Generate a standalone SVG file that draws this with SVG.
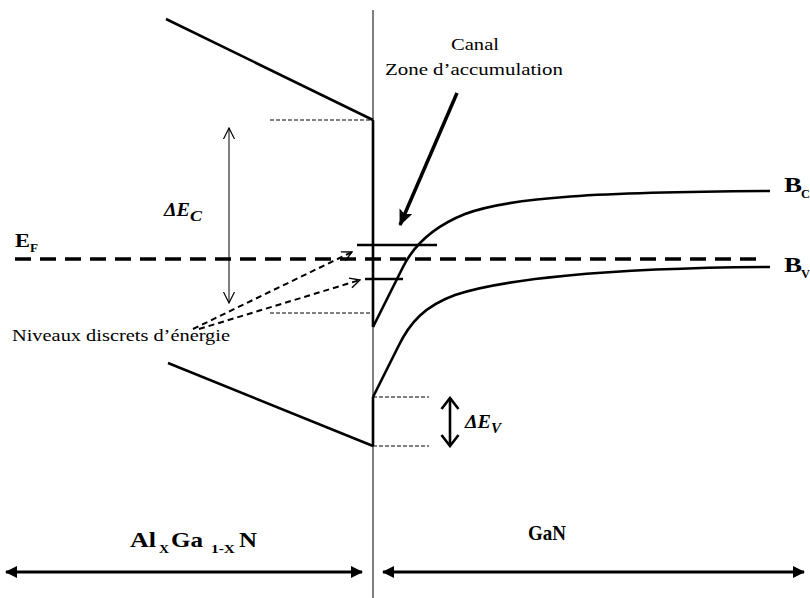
<svg xmlns="http://www.w3.org/2000/svg" width="810" height="598" viewBox="0 0 810 598">
<style>
  text { font-family: "Liberation Serif", "Times New Roman", serif; fill: #000; }
  .b { font-weight: bold; }
  .bi { font-weight: bold; font-style: italic; }
  .band { fill: none; stroke: #000; stroke-width: 2.6; stroke-linejoin: round; }
  .thin { fill: none; stroke: #000; stroke-width: 1; }
  .dshort { fill: none; stroke: #000; stroke-width: 1; stroke-dasharray: 4 2; }
  .ef { fill: none; stroke: #000; stroke-width: 3.5; stroke-dasharray: 16 9; }
  .dar { fill: none; stroke: #000; stroke-width: 2; stroke-dasharray: 6 4; }
</style>
<defs>
  <marker id="fill" viewBox="0 0 12 12" refX="11" refY="6" markerWidth="12" markerHeight="12" markerUnits="userSpaceOnUse" orient="auto-start-reverse">
    <path d="M0,0 L12,6 L0,12 Z" fill="#000"/>
  </marker>
  <marker id="canal" viewBox="0 0 16 14" refX="15" refY="7" markerWidth="16" markerHeight="14" markerUnits="userSpaceOnUse" orient="auto">
    <path d="M0,0 L16,7 L0,14 L3,7 Z" fill="#000"/>
  </marker>
  <marker id="open" viewBox="0 0 12 12" refX="11" refY="6" markerWidth="12" markerHeight="12" markerUnits="userSpaceOnUse" orient="auto-start-reverse">
    <path d="M0,0.5 L11,6 L0,11.5" fill="none" stroke="#000" stroke-width="1.2"/>
  </marker>
  <marker id="open2" viewBox="0 0 12 12" refX="11" refY="6" markerWidth="12" markerHeight="12" markerUnits="userSpaceOnUse" orient="auto">
    <path d="M1,1 L11,6 L1,11" fill="none" stroke="#000" stroke-width="1.4"/>
  </marker>
  <marker id="chev" viewBox="0 0 14 20" refX="12" refY="10" markerWidth="14" markerHeight="20" markerUnits="userSpaceOnUse" orient="auto-start-reverse">
    <path d="M1,1.5 L12,10 L1,18.5" fill="none" stroke="#000" stroke-width="2.6"/>
  </marker>
</defs>

<g id="interface">
  <line class="thin" x1="373" y1="10" x2="373" y2="598"/>
</g>

<g id="barrier-conduction">
  <line class="band" x1="166" y1="19" x2="373" y2="120"/>
  <line class="band" x1="373" y1="120" x2="373" y2="327"/>
</g>

<g id="barrier-valence">
  <line class="band" x1="168" y1="363" x2="373" y2="446"/>
  <line class="band" x1="373" y1="397" x2="373" y2="446"/>
</g>

<g id="gan-bc">
  <path class="band" d="M373,327 L403,267 C413,247 430,228 465,214 C510,197 600,192 770,191"/>
  <text class="b" x="784" y="192" font-size="21" textLength="18" lengthAdjust="spacingAndGlyphs">B</text>
  <text class="b" x="801" y="198" font-size="13" textLength="9" lengthAdjust="spacingAndGlyphs">C</text>
</g>

<g id="gan-bv">
  <path class="band" d="M373,397 L398,347 C410,322 425,306 455,295 C500,280 600,268 770,267"/>
  <text class="b" x="784" y="272" font-size="21" textLength="18" lengthAdjust="spacingAndGlyphs">B</text>
  <text class="b" x="801" y="278" font-size="13" textLength="9" lengthAdjust="spacingAndGlyphs">V</text>
</g>

<g id="fermi">
  <line class="ef" x1="15" y1="259" x2="756" y2="259"/>
  <text class="b" x="15" y="247" font-size="19" textLength="15" lengthAdjust="spacingAndGlyphs">E</text>
  <text class="b" x="30" y="252" font-size="12" textLength="8" lengthAdjust="spacingAndGlyphs">F</text>
</g>

<g id="levels">
  <line class="band" x1="357" y1="245" x2="437" y2="245"/>
  <line class="band" x1="365" y1="279" x2="403" y2="279"/>
</g>

<g id="delta-ec">
  <line class="dshort" x1="270" y1="120" x2="373" y2="120"/>
  <line class="dshort" x1="270" y1="313" x2="373" y2="313"/>
  <text class="bi" x="164" y="216" font-size="18" textLength="26" lengthAdjust="spacingAndGlyphs">ΔE</text>
  <text class="bi" x="190" y="221" font-size="14" textLength="12" lengthAdjust="spacingAndGlyphs">C</text>
</g>

<g id="delta-ev">
  <line class="dshort" x1="373" y1="397" x2="429" y2="397"/>
  <line class="dshort" x1="373" y1="446" x2="429" y2="446"/>
  <text class="bi" x="465" y="428" font-size="18" textLength="26" lengthAdjust="spacingAndGlyphs">ΔE</text>
  <text class="bi" x="491" y="433" font-size="14" textLength="10" lengthAdjust="spacingAndGlyphs">V</text>
</g>

<g id="canal-label">
  <text x="451" y="50" font-size="17" textLength="48" lengthAdjust="spacingAndGlyphs">Canal</text>
  <text x="385" y="75" font-size="17" textLength="178" lengthAdjust="spacingAndGlyphs">Zone d’accumulation</text>
</g>

<g id="niveaux-label">
  <text x="12" y="341" font-size="17" textLength="218" lengthAdjust="spacingAndGlyphs">Niveaux discrets d’énergie</text>
</g>

<g id="algan-label">
  <text class="b" x="130" y="547" font-size="21" textLength="26" lengthAdjust="spacingAndGlyphs">Al</text>
  <text class="b" x="159" y="553" font-size="13" textLength="10" lengthAdjust="spacingAndGlyphs">X</text>
  <text class="b" x="171" y="547" font-size="21" textLength="32" lengthAdjust="spacingAndGlyphs">Ga</text>
  <text class="b" x="211" y="553" font-size="13" textLength="24" lengthAdjust="spacingAndGlyphs">1-X</text>
  <text class="b" x="239" y="547" font-size="21" textLength="18" lengthAdjust="spacingAndGlyphs">N</text>
</g>

<g id="gan-label">
  <text class="b" x="528" y="540" font-size="21" textLength="38" lengthAdjust="spacingAndGlyphs">GaN</text>
</g>

<g id="connectors">
  <line x1="457" y1="93" x2="400" y2="225" stroke="#000" stroke-width="3.5" marker-end="url(#canal)"/>
  <line x1="229" y1="128" x2="229" y2="303" stroke="#000" stroke-width="1" marker-start="url(#open)" marker-end="url(#open)"/>
  <line x1="450" y1="398" x2="450" y2="446" stroke="#000" stroke-width="2.6" marker-start="url(#chev)" marker-end="url(#chev)"/>
  <line class="dar" x1="193" y1="329" x2="352" y2="252" marker-end="url(#open2)"/>
  <line class="dar" x1="199" y1="329" x2="360" y2="280" marker-end="url(#open2)"/>
  <line x1="6" y1="572" x2="362" y2="572" stroke="#000" stroke-width="3" marker-start="url(#fill)" marker-end="url(#fill)"/>
  <line x1="383" y1="572" x2="804" y2="572" stroke="#000" stroke-width="3" marker-start="url(#fill)" marker-end="url(#fill)"/>
</g>
</svg>
